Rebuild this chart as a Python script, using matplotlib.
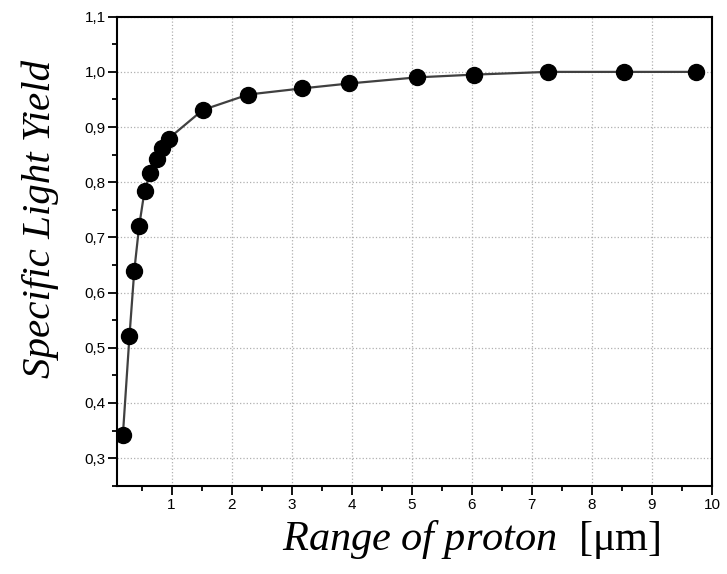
import matplotlib
matplotlib.use("Agg")
import matplotlib.pyplot as plt
from matplotlib.ticker import MultipleLocator, FuncFormatter

# data
range_um = [0.19, 0.30, 0.38, 0.46, 0.55, 0.64, 0.76, 0.84, 0.95,
            1.52, 2.28, 3.17, 3.96, 5.08, 6.03, 7.27, 8.54, 9.73]
light_yield = [0.342, 0.522, 0.640, 0.720, 0.784, 0.816, 0.842, 0.862, 0.879,
               0.931, 0.959, 0.970, 0.979, 0.990, 0.995, 1.000, 1.000, 1.000]

plt.rcParams["mathtext.fontset"] = "custom"
plt.rcParams["mathtext.rm"] = "Liberation Serif"
plt.rcParams["mathtext.it"] = "Liberation Serif:italic"

fig = plt.figure(figsize=(7.27, 5.74), dpi=100)
ax = fig.add_axes([0.1616, 0.1538, 0.8178, 0.8171])

ax.plot(range_um, light_yield, color="#404040", lw=1.6, zorder=2)
ax.plot(range_um, light_yield, "o", color="black", ms=11.5, zorder=3)

ax.set_xlim(0.1, 10)
ax.set_ylim(0.25, 1.1)

ax.xaxis.set_major_locator(MultipleLocator(1))
ax.xaxis.set_minor_locator(MultipleLocator(0.5))
ax.yaxis.set_major_locator(MultipleLocator(0.1))
ax.yaxis.set_minor_locator(MultipleLocator(0.05))
ax.xaxis.set_major_formatter(FuncFormatter(lambda v, p: f"{v:.0f}"))
ax.yaxis.set_major_formatter(FuncFormatter(lambda v, p: f"{v:.1f}".replace(".", ",")))

ax.grid(True, which="major", color="#b0b0b0", linestyle=":", linewidth=0.9)
ax.set_axisbelow(True)

for s in ax.spines.values():
    s.set_linewidth(1.5)

ax.tick_params(which="major", direction="out", length=6.5, width=1.3,
               labelsize=11, pad=2)
ax.tick_params(which="minor", direction="out", length=3.6, width=1.3)
for lab in ax.get_xticklabels() + ax.get_yticklabels():
    lab.set_fontfamily("Liberation Sans")

fig.text(0.649, 0.022, r"$\it{Range\ of\ proton}$  [μm]",
         ha="center", va="bottom", fontsize=30.5, family="Liberation Serif")
fig.text(0.056, 0.618, "Specific Light Yield", rotation=90,
         ha="center", va="center", fontsize=29.5,
         family="Liberation Serif", style="italic")

fig.savefig("out.png", dpi=100)
